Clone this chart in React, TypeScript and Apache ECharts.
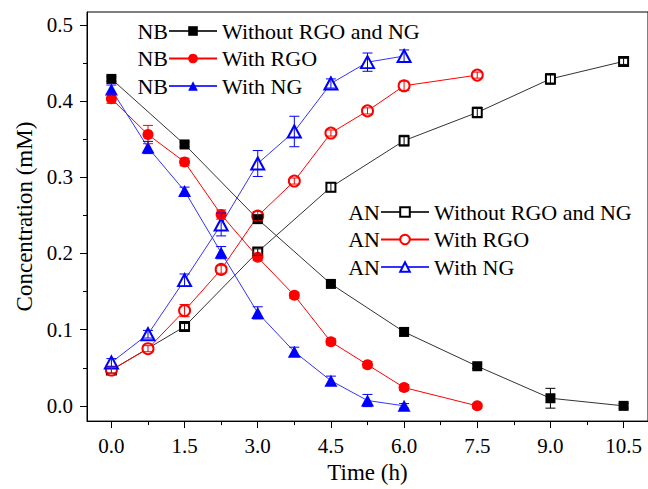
import { useEffect, useRef } from "react";
import * as echarts from "echarts";

// Time points (h)
const timeBlack = [0, 1.5, 3, 4.5, 6, 7.5, 9, 10.5];
const timeRed = [0, 0.75, 1.5, 2.25, 3, 3.75, 4.5, 5.25, 6, 7.5];
const timeBlue = [0, 0.75, 1.5, 2.25, 3, 3.75, 4.5, 5.25, 6];

// Concentrations (mM)
const nbWithout = [0.429, 0.343, 0.245, 0.16, 0.097, 0.052, 0.01, 0.0];
const nbRGO = [0.403, 0.356, 0.32, 0.251, 0.195, 0.145, 0.084, 0.054, 0.024, 0.0];
const nbNG = [0.415, 0.339, 0.282, 0.201, 0.122, 0.071, 0.033, 0.007, 0.0];
const anWithout = [0.047, 0.104, 0.202, 0.287, 0.348, 0.385, 0.429, 0.452];
const anRGO = [0.047, 0.075, 0.125, 0.179, 0.249, 0.295, 0.358, 0.387, 0.42, 0.434];
const anNG = [0.057, 0.094, 0.165, 0.238, 0.318, 0.36, 0.423, 0.451, 0.459];

// Error bar half-widths (mM)
const nbWithoutErr = [0.003, 0.003, 0.004, 0.003, 0.005, 0.003, 0.013, 0.003];
const nbRGOErr = [0.006, 0.012, 0.005, 0.006, 0.004, 0.004, 0.004, 0.004, 0.004, 0.003];
const nbNGErr = [0.006, 0.008, 0.005, 0.008, 0.008, 0.006, 0.006, 0.008, 0.003];
const anWithoutErr = [0.004, 0.004, 0.004, 0.006, 0.007, 0.007, 0.007, 0.004];
const anRGOErr = [0.004, 0.004, 0.008, 0.005, 0.006, 0.004, 0.004, 0.004, 0.006, 0.004];
const anNGErr = [0.005, 0.005, 0.008, 0.015, 0.017, 0.02, 0.006, 0.012, 0.008];

// Axis ticks
const xMajor = [0, 1.5, 3, 4.5, 6, 7.5, 9, 10.5];
const xMinor = [0.75, 2.25, 3.75, 5.25, 6.75, 8.25, 9.75];
const yMajor = [0, 0.1, 0.2, 0.3, 0.4, 0.5];
const yMinor = [0.05, 0.15, 0.25, 0.35, 0.45];

const FONT = "Liberation Serif";
const BLACK = "#000000";
const RED = "#ff0000";
const BLUE = "#0000ff";

function pairs(t: number[], v: number[]) {
  return t.map((x, i) => [x, v[i]]);
}
function errs(t: number[], v: number[], e: number[]) {
  return t.map((x, i) => [x, v[i] - e[i], v[i] + e[i]]);
}

function lineSeries(name: string, t: number[], v: number[], color: string, lineColor: string, symbol: string, size: number | number[]) {
  const empty = symbol.startsWith("empty");
  return {
    name,
    type: "line",
    data: pairs(t, v),
    symbol,
    symbolSize: size,
    showAllSymbol: true,
    itemStyle: { color, borderColor: color, borderWidth: empty ? 1.2 : 0 },
    lineStyle: { color: lineColor, width: 1 },
    emphasis: { disabled: true },
    z: empty ? 2 : 3,
  };
}

function errSeries(name: string, t: number[], v: number[], e: number[], color: string) {
  return {
    name,
    type: "custom",
    data: errs(t, v, e),
    z: 4,
    silent: true,
    renderItem: (_params: any, api: any) => {
      const x = api.value(0);
      const lo = api.value(1);
      const hi = api.value(2);
      const p1 = api.coord([x, hi]);
      const p2 = api.coord([x, lo]);
      const w = 5;
      const st = { stroke: color, lineWidth: 1 };
      return {
        type: "group",
        children: [
          { type: "line", shape: { x1: p1[0], y1: p1[1], x2: p2[0], y2: p2[1] }, style: st },
          { type: "line", shape: { x1: p1[0] - w, y1: p1[1], x2: p1[0] + w, y2: p1[1] }, style: st },
          { type: "line", shape: { x1: p2[0] - w, y1: p2[1], x2: p2[0] + w, y2: p2[1] }, style: st },
        ],
      };
    },
  };
}

function prefix(text: string, x: number, y: number) {
  return { type: "text", x, y, style: { text, fontFamily: FONT, fontSize: 22, fill: "#000", align: "right", verticalAlign: "middle" } };
}

export default function App() {
  const ref = useRef<HTMLDivElement>(null);
  useEffect(() => {
    document.body.style.margin = "0";
    if (!ref.current) return;
    const chart = echarts.init(ref.current, null, { renderer: "svg" });
    const tickText = { fontFamily: FONT, fontSize: 21, color: "#000" };
    const nameText = { fontFamily: FONT, fontSize: 23, color: "#000" };
    const legendBase = {
      orient: "vertical",
      padding: 0,
      itemGap: 5.5,
      itemWidth: 48,
      itemHeight: 12,
      textStyle: { fontFamily: FONT, fontSize: 22, color: "#000" },
      selectedMode: false,
      formatter: (n: string) => n.slice(3),
    };
    chart.setOption({
      animation: false,
      backgroundColor: "#ffffff",
      textStyle: { fontFamily: FONT },
      grid: { left: 87, top: 12, width: 564, height: 416, show: true, borderColor: "#000", borderWidth: 1, backgroundColor: "transparent" },
      xAxis: [
        {
          type: "value",
          min: -0.5,
          max: 11,
          name: "Time (h)",
          nameLocation: "middle",
          nameGap: 32,
          nameTextStyle: nameText,
          axisLine: { show: true, onZero: false, lineStyle: { color: "#000", width: 1 } },
          axisTick: { show: true, inside: false, length: 7, customValues: xMajor, lineStyle: { color: "#000", width: 1 } },
          axisLabel: { customValues: xMajor, margin: 14, formatter: (v: number) => v.toFixed(1), ...tickText },
          splitLine: { show: false },
        },
        {
          type: "value",
          min: -0.5,
          max: 11,
          position: "bottom",
          axisLine: { show: false, onZero: false },
          axisTick: { show: true, inside: false, length: 4, customValues: xMinor, lineStyle: { color: "#000", width: 1 } },
          axisLabel: { show: false },
          splitLine: { show: false },
        },
      ],
      yAxis: [
        {
          type: "value",
          min: -0.02,
          max: 0.5168,
          name: "Concentration (mM)",
          nameLocation: "middle",
          nameGap: 51,
          nameTextStyle: nameText,
          axisLine: { show: true, onZero: false, lineStyle: { color: "#000", width: 1 } },
          axisTick: { show: true, inside: false, length: 7, customValues: yMajor, lineStyle: { color: "#000", width: 1 } },
          axisLabel: { customValues: yMajor, margin: 14, formatter: (v: number) => v.toFixed(1), ...tickText },
          splitLine: { show: false },
        },
        {
          type: "value",
          min: -0.02,
          max: 0.5168,
          position: "left",
          axisLine: { show: false, onZero: false },
          axisTick: { show: true, inside: false, length: 4, customValues: yMinor, lineStyle: { color: "#000", width: 1 } },
          axisLabel: { show: false },
          splitLine: { show: false },
        },
      ],
      legend: [
        { ...legendBase, left: 168, top: 20, data: ["NB Without RGO and NG", "NB With RGO", "NB With NG"] },
        { ...legendBase, left: 380, top: 201, data: ["AN Without RGO and NG", "AN With RGO", "AN With NG"] },
      ],
      graphic: [
        prefix("NB", 168, 31),
        prefix("NB", 168, 58.5),
        prefix("NB", 168, 86),
        prefix("AN", 380, 212),
        prefix("AN", 380, 239.5),
        prefix("AN", 380, 267),
      ],
      series: [
        lineSeries("AN Without RGO and NG", timeBlack, anWithout, BLACK, "#333333", "emptyRect", 9),
        lineSeries("AN With RGO", timeRed, anRGO, RED, RED, "emptyCircle", 11),
        lineSeries("AN With NG", timeBlue, anNG, BLUE, "#3333ff", "emptyTriangle", [13, 12]),
        lineSeries("NB Without RGO and NG", timeBlack, nbWithout, BLACK, "#333333", "rect", 10),
        lineSeries("NB With RGO", timeRed, nbRGO, RED, RED, "circle", 11),
        lineSeries("NB With NG", timeBlue, nbNG, BLUE, "#3333ff", "triangle", [13, 12]),
        errSeries("err AN Without", timeBlack, anWithout, anWithoutErr, BLACK),
        errSeries("err AN RGO", timeRed, anRGO, anRGOErr, RED),
        errSeries("err AN NG", timeBlue, anNG, anNGErr, BLUE),
        errSeries("err NB Without", timeBlack, nbWithout, nbWithoutErr, BLACK),
        errSeries("err NB RGO", timeRed, nbRGO, nbRGOErr, RED),
        errSeries("err NB NG", timeBlue, nbNG, nbNGErr, BLUE),
      ],
    });
    return () => chart.dispose();
  }, []);
  return <div ref={ref} style={{ width: 648, height: 489 }} />;
}
